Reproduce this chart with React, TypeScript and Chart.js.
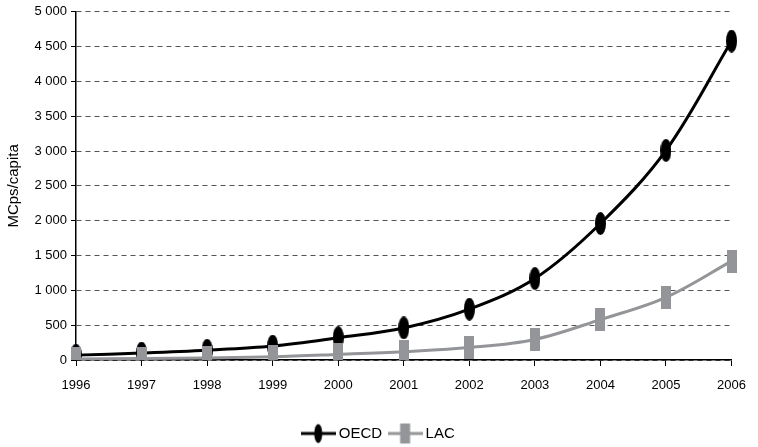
import React, { useEffect, useRef } from "react";
import { Chart, registerables } from "chart.js";

Chart.register(...registerables);

const years = ["1996", "1997", "1998", "1999", "2000", "2001", "2002", "2003", "2004", "2005", "2006"];
const oecd = [70, 100, 140, 200, 320, 460, 730, 1170, 1960, 3010, 4580];
const lac = [15, 22, 30, 45, 80, 120, 178, 295, 580, 900, 1420];
const seriesNames = ["OECD", "LAC"];
const yAxisTitle = "MCps/capita";
const yMin = 0;
const yMax = 5000;
const yStep = 500;

const BLACK = "#000000";
const GRAY = "#939598";
const FONT = "Arial, 'Liberation Sans', sans-serif";

function makeCanvas(w: number, h: number) {
  const c = document.createElement("canvas");
  c.width = w;
  c.height = h;
  return c;
}

function ellipseImg(w: number, h: number, color: string) {
  const c = makeCanvas(w, h);
  const ctx = c.getContext("2d")!;
  ctx.fillStyle = color;
  ctx.beginPath();
  ctx.ellipse(w / 2, h / 2, w / 2, h / 2, 0, 0, Math.PI * 2);
  ctx.fill();
  return c;
}

function rectImg(w: number, h: number, color: string) {
  const c = makeCanvas(w, h);
  const ctx = c.getContext("2d")!;
  ctx.fillStyle = color;
  ctx.fillRect(0, 0, w, h);
  return c;
}

function legendImg(kind: "ellipse" | "rect", color: string) {
  const w = 35;
  const h = 22;
  const c = makeCanvas(w, h);
  const ctx = c.getContext("2d")!;
  ctx.strokeStyle = color;
  ctx.lineWidth = 3;
  ctx.beginPath();
  ctx.moveTo(0, h / 2);
  ctx.lineTo(w, h / 2);
  ctx.stroke();
  ctx.fillStyle = color;
  if (kind === "ellipse") {
    ctx.beginPath();
    ctx.ellipse(w / 2, h / 2, 4, 9.5, 0, 0, Math.PI * 2);
    ctx.fill();
  } else {
    ctx.fillRect(w / 2 - 5, h / 2 - 10, 10, 20);
  }
  return c;
}

function fmt(v: number) {
  return String(v).replace(/\B(?=(\d{3})+(?!\d))/g, " ");
}

export default function App() {
  const ref = useRef<HTMLCanvasElement | null>(null);

  useEffect(() => {
    if (!ref.current) return;
    const oecdPt = ellipseImg(11, 23, BLACK);
    const lacPt = rectImg(10, 23, GRAY);
    const legendImgs = [legendImg("ellipse", BLACK), legendImg("rect", GRAY)];

    const chart = new Chart(ref.current, {
      type: "line",
      data: {
        labels: years,
        datasets: [
          {
            label: seriesNames[0],
            data: oecd,
            borderColor: BLACK,
            backgroundColor: BLACK,
            borderWidth: 3,
            tension: 0.35,
            pointStyle: oecdPt as any,
            pointRadius: 6,
            order: 2,
          },
          {
            label: seriesNames[1],
            data: lac,
            borderColor: GRAY,
            backgroundColor: GRAY,
            borderWidth: 3,
            tension: 0.35,
            pointStyle: lacPt as any,
            pointRadius: 6,
            order: 1,
          },
        ],
      },
      options: {
        responsive: false,
        animation: false,
        events: [],
        layout: { padding: { left: 20, right: 18, top: 10, bottom: -4 } },
        plugins: {
          tooltip: { enabled: false },
          legend: {
            position: "bottom",
            align: "center",
            labels: {
              usePointStyle: true,
              pointStyleWidth: 26,
              padding: 10,
              color: BLACK,
              font: { family: FONT, size: 15 },
              generateLabels: (ch: any) => {
                const items = (Chart.defaults.plugins.legend.labels as any).generateLabels(ch);
                items.sort((a: any, b: any) => a.datasetIndex - b.datasetIndex);
                items.forEach((it: any) => {
                  it.pointStyle = legendImgs[it.datasetIndex];
                });
                return items;
              },
            },
          },
        },
        scales: {
          x: {
            type: "category",
            offset: false,
            afterFit: (s: any) => {
              s.height = 56;
            },
            border: { display: true, color: BLACK, width: 1.5 },
            grid: {
              display: true,
              drawOnChartArea: false,
              drawTicks: true,
              tickLength: 6,
              tickColor: BLACK,
              tickWidth: 1,
            },
            ticks: {
              color: BLACK,
              font: { family: FONT, size: 13 },
              padding: 12,
              maxRotation: 0,
              autoSkip: false,
            },
          },
          y: {
            min: yMin,
            max: yMax,
            afterFit: (s: any) => {
              s.width = 56;
            },
            border: { display: true, color: BLACK, width: 1.5, dash: [5, 4] },
            grid: {
              color: "#555555",
              lineWidth: 1,
              drawTicks: true,
              tickLength: 5,
              tickColor: BLACK,
              tickWidth: 1,
              tickBorderDash: [],
            } as any,
            ticks: {
              stepSize: yStep,
              color: BLACK,
              font: { family: FONT, size: 13 },
              padding: 4,
              callback: (v: any) => fmt(Number(v)),
            },
            title: {
              display: true,
              text: yAxisTitle,
              color: BLACK,
              font: { family: FONT, size: 15 },
              padding: { top: -15, bottom: 0 },
            },
          },
        },
      },
    } as any);

    return () => chart.destroy();
  }, []);

  return (
    <div style={{ position: "absolute", left: 0, top: 0, width: 758, height: 447 }}>
      <canvas ref={ref} width={758} height={447} style={{ display: "block" }} />
    </div>
  );
}
